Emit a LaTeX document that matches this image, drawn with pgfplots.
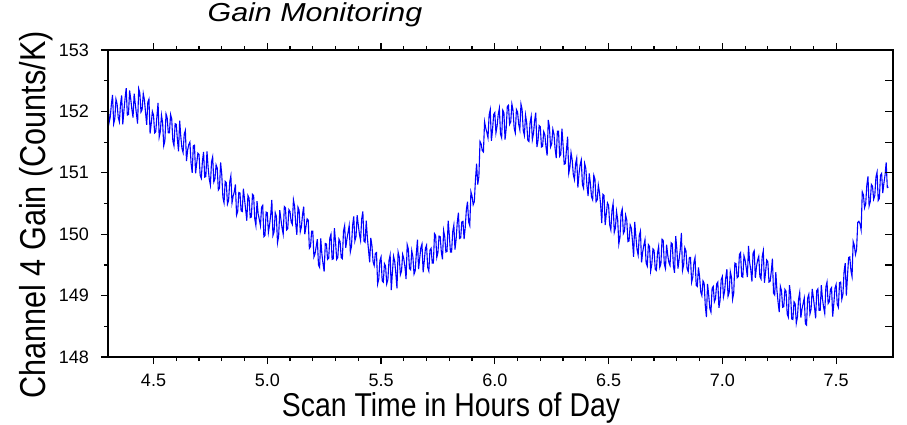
\documentclass[border=0pt]{standalone}
\usepackage{pgfplots}
\pgfplotsset{compat=1.18}
\usepackage{pgfplotstable}
\usepackage{fontspec}
\setmainfont{Liberation Sans}
\newfontfamily\ylabfont{Liberation Sans}[FakeStretch=0.85]
\newfontfamily\xlabfont{Liberation Sans}[FakeStretch=0.86]
\newfontfamily\titlefont{Liberation Sans}[FakeStretch=1.17]

\pgfplotstableread{
x y
4.300 152.17
4.305 151.82
4.310 151.91
4.315 152.12
4.320 152.27
4.325 151.80
4.330 151.88
4.335 152.20
4.340 152.12
4.345 151.90
4.350 151.83
4.355 152.12
4.360 152.26
4.365 151.79
4.370 152.01
4.375 152.21
4.380 152.38
4.385 151.94
4.390 151.95
4.395 152.34
4.400 152.20
4.405 152.03
4.410 151.90
4.415 152.29
4.420 152.12
4.425 151.96
4.430 151.80
4.435 152.37
4.440 152.30
4.445 151.99
4.450 152.03
4.455 152.29
4.460 152.19
4.465 151.98
4.470 151.78
4.475 152.15
4.480 152.20
4.485 151.64
4.490 151.80
4.495 152.00
4.500 151.94
4.505 151.65
4.510 151.67
4.515 151.92
4.520 152.14
4.525 151.58
4.530 151.67
4.535 151.94
4.540 151.82
4.545 151.44
4.550 151.52
4.555 151.96
4.560 151.90
4.565 151.65
4.570 151.65
4.575 151.95
4.580 151.88
4.585 151.52
4.590 151.44
4.595 151.80
4.600 151.79
4.605 151.54
4.610 151.35
4.615 151.85
4.620 151.59
4.625 151.40
4.630 151.33
4.635 151.63
4.640 151.69
4.645 151.19
4.650 151.37
4.655 151.46
4.660 151.50
4.665 151.16
4.670 151.00
4.675 151.44
4.680 151.45
4.685 150.99
4.690 151.16
4.695 151.32
4.700 151.30
4.705 150.96
4.710 150.91
4.715 151.19
4.720 151.34
4.725 150.93
4.730 150.94
4.735 151.35
4.740 151.09
4.745 150.90
4.750 150.80
4.755 151.18
4.760 151.26
4.765 150.85
4.770 150.90
4.775 151.13
4.780 151.08
4.785 150.72
4.790 150.75
4.795 151.17
4.800 150.97
4.805 150.60
4.810 150.51
4.815 150.86
4.820 150.84
4.825 150.49
4.830 150.55
4.835 150.85
4.840 150.95
4.845 150.51
4.850 150.62
4.855 150.69
4.860 150.81
4.865 150.31
4.870 150.37
4.875 150.68
4.880 150.67
4.885 150.38
4.890 150.37
4.895 150.74
4.900 150.57
4.905 150.40
4.910 150.22
4.915 150.63
4.920 150.59
4.925 150.27
4.930 150.28
4.935 150.65
4.940 150.63
4.945 150.25
4.950 150.14
4.955 150.54
4.960 150.33
4.965 150.24
4.970 150.14
4.975 150.44
4.980 150.47
4.985 149.96
4.990 149.98
4.995 150.36
5.000 150.35
5.005 150.03
5.010 150.15
5.015 150.31
5.020 150.56
5.025 149.98
5.030 150.04
5.035 150.35
5.040 150.29
5.045 149.86
5.050 149.97
5.055 150.39
5.060 150.24
5.065 150.10
5.070 150.00
5.075 150.45
5.080 150.43
5.085 150.07
5.090 150.09
5.095 150.40
5.100 150.37
5.105 150.20
5.110 150.16
5.115 150.56
5.120 150.46
5.125 150.17
5.130 149.99
5.135 150.44
5.140 150.39
5.145 150.04
5.150 150.12
5.155 150.32
5.160 150.45
5.165 150.00
5.170 150.12
5.175 150.25
5.180 150.23
5.185 149.77
5.190 149.80
5.195 150.05
5.200 150.05
5.205 149.63
5.210 149.68
5.215 149.80
5.220 149.92
5.225 149.50
5.230 149.46
5.235 149.93
5.240 149.68
5.245 149.52
5.250 149.39
5.255 149.85
5.260 149.84
5.265 149.59
5.270 149.61
5.275 149.94
5.280 150.00
5.285 149.59
5.290 149.60
5.295 150.10
5.300 149.88
5.305 149.59
5.310 149.62
5.315 149.92
5.320 149.88
5.325 149.62
5.330 149.60
5.335 150.05
5.340 150.14
5.345 149.78
5.350 149.92
5.355 150.03
5.360 150.14
5.365 149.71
5.370 149.80
5.375 150.14
5.380 150.29
5.385 149.89
5.390 149.96
5.395 150.31
5.400 150.15
5.405 150.00
5.410 149.90
5.415 150.25
5.420 150.37
5.425 149.89
5.430 149.87
5.435 150.22
5.440 149.94
5.445 149.74
5.450 149.54
5.455 149.94
5.460 149.81
5.465 149.55
5.470 149.49
5.475 149.69
5.480 149.70
5.485 149.19
5.490 149.27
5.495 149.57
5.500 149.63
5.505 149.24
5.510 149.22
5.515 149.52
5.520 149.48
5.525 149.19
5.530 149.26
5.535 149.57
5.540 149.66
5.545 149.09
5.550 149.38
5.555 149.64
5.560 149.56
5.565 149.36
5.570 149.12
5.575 149.71
5.580 149.63
5.585 149.34
5.590 149.40
5.595 149.67
5.600 149.60
5.605 149.47
5.610 149.27
5.615 149.83
5.620 149.76
5.625 149.44
5.630 149.42
5.635 149.73
5.640 149.63
5.645 149.35
5.650 149.40
5.655 149.68
5.660 149.91
5.665 149.43
5.670 149.61
5.675 149.78
5.680 149.84
5.685 149.38
5.690 149.56
5.695 149.77
5.700 149.82
5.705 149.46
5.710 149.40
5.715 149.74
5.720 149.77
5.725 149.53
5.730 149.53
5.735 150.01
5.740 149.98
5.745 149.62
5.750 149.70
5.755 149.97
5.760 149.96
5.765 149.71
5.770 149.59
5.775 150.06
5.780 149.96
5.785 149.71
5.790 149.72
5.795 150.22
5.800 149.99
5.805 149.71
5.810 149.71
5.815 150.04
5.820 150.15
5.825 149.75
5.830 149.92
5.835 150.19
5.840 150.35
5.845 149.93
5.850 149.94
5.855 150.20
5.860 150.21
5.865 149.92
5.870 150.11
5.875 150.40
5.880 150.53
5.885 150.20
5.890 150.14
5.895 150.69
5.900 150.62
5.905 150.48
5.910 150.53
5.915 150.89
5.920 151.15
5.925 150.81
5.930 150.94
5.935 151.51
5.940 151.47
5.945 151.36
5.950 151.34
5.955 151.83
5.960 151.73
5.965 151.66
5.970 151.57
5.975 151.94
5.980 152.03
5.985 151.52
5.990 151.70
5.995 151.95
6.000 151.98
6.005 151.65
6.010 151.76
6.015 151.95
6.020 152.05
6.025 151.63
6.030 151.57
6.035 152.02
6.040 151.98
6.045 151.54
6.050 151.72
6.055 152.08
6.060 152.10
6.065 151.79
6.070 151.83
6.075 152.12
6.080 152.02
6.085 151.73
6.090 151.65
6.095 152.03
6.100 151.99
6.105 151.79
6.110 151.70
6.115 152.12
6.120 152.03
6.125 151.69
6.130 151.61
6.135 151.94
6.140 151.82
6.145 151.53
6.150 151.51
6.155 151.82
6.160 151.92
6.165 151.54
6.170 151.64
6.175 151.85
6.180 151.98
6.185 151.42
6.190 151.53
6.195 151.77
6.200 151.75
6.205 151.42
6.210 151.43
6.215 151.67
6.220 151.62
6.225 151.42
6.230 151.28
6.235 151.86
6.240 151.75
6.245 151.42
6.250 151.47
6.255 151.71
6.260 151.63
6.265 151.39
6.270 151.24
6.275 151.68
6.280 151.68
6.285 151.27
6.290 151.30
6.295 151.72
6.300 151.45
6.305 151.14
6.310 151.15
6.315 151.38
6.320 151.59
6.325 150.99
6.330 151.09
6.335 151.33
6.340 151.21
6.345 150.97
6.350 150.89
6.355 151.15
6.360 151.24
6.365 150.76
6.370 150.98
6.375 151.13
6.380 151.21
6.385 150.81
6.390 150.75
6.395 151.15
6.400 151.07
6.405 150.79
6.410 150.62
6.415 150.99
6.420 150.83
6.425 150.61
6.430 150.56
6.435 150.96
6.440 150.90
6.445 150.53
6.450 150.56
6.455 150.80
6.460 150.68
6.465 150.48
6.470 150.18
6.475 150.65
6.480 150.63
6.485 150.15
6.490 150.33
6.495 150.51
6.500 150.47
6.505 150.15
6.510 150.07
6.515 150.39
6.520 150.50
6.525 150.03
6.530 150.10
6.535 150.37
6.540 150.24
6.545 149.84
6.550 149.95
6.555 150.34
6.560 150.41
6.565 150.01
6.570 150.05
6.575 150.31
6.580 150.23
6.585 149.88
6.590 149.89
6.595 150.15
6.600 150.10
6.605 149.89
6.610 149.63
6.615 150.20
6.620 149.96
6.625 149.75
6.630 149.66
6.635 149.98
6.640 150.05
6.645 149.54
6.650 149.71
6.655 149.82
6.660 149.91
6.665 149.53
6.670 149.48
6.675 149.83
6.680 149.80
6.685 149.40
6.690 149.51
6.695 149.76
6.700 149.74
6.705 149.43
6.710 149.41
6.715 149.69
6.720 149.80
6.725 149.46
6.730 149.52
6.735 149.92
6.740 149.90
6.745 149.51
6.750 149.44
6.755 149.83
6.760 149.66
6.765 149.54
6.770 149.49
6.775 149.86
6.780 149.84
6.785 149.48
6.790 149.37
6.795 149.97
6.800 149.76
6.805 149.44
6.810 149.59
6.815 149.75
6.820 150.02
6.825 149.41
6.830 149.50
6.835 149.78
6.840 149.73
6.845 149.44
6.850 149.39
6.855 149.62
6.860 149.62
6.865 149.22
6.870 149.30
6.875 149.54
6.880 149.62
6.885 149.17
6.890 149.15
6.895 149.46
6.900 149.31
6.905 149.06
6.910 149.00
6.915 149.24
6.920 149.20
6.925 148.84
6.930 148.65
6.935 149.19
6.940 149.01
6.945 148.79
6.950 148.73
6.955 149.12
6.960 149.15
6.965 148.90
6.970 148.95
6.975 149.19
6.980 149.22
6.985 148.80
6.990 148.92
6.995 149.26
7.000 149.31
7.005 148.98
7.010 149.07
7.015 149.29
7.020 149.43
7.025 148.99
7.030 149.05
7.035 149.39
7.040 149.30
7.045 148.94
7.050 149.04
7.055 149.53
7.060 149.52
7.065 149.29
7.070 149.31
7.075 149.67
7.080 149.70
7.085 149.31
7.090 149.30
7.095 149.65
7.100 149.58
7.105 149.45
7.110 149.30
7.115 149.81
7.120 149.54
7.125 149.42
7.130 149.23
7.135 149.69
7.140 149.73
7.145 149.29
7.150 149.47
7.155 149.58
7.160 149.64
7.165 149.31
7.170 149.27
7.175 149.63
7.180 149.73
7.185 149.21
7.190 149.38
7.195 149.58
7.200 149.55
7.205 149.22
7.210 149.23
7.215 149.39
7.220 149.60
7.225 149.04
7.230 149.01
7.235 149.38
7.240 149.08
7.245 148.89
7.250 148.73
7.255 149.15
7.260 149.08
7.265 148.81
7.270 148.82
7.275 149.10
7.280 149.07
7.285 148.70
7.290 148.65
7.295 149.17
7.300 149.02
7.305 148.62
7.310 148.61
7.315 148.90
7.320 148.87
7.325 148.55
7.330 148.65
7.335 148.94
7.340 149.05
7.345 148.64
7.350 148.78
7.355 148.87
7.360 148.96
7.365 148.54
7.370 148.52
7.375 148.96
7.380 149.02
7.385 148.70
7.390 148.78
7.395 149.11
7.400 148.97
7.405 148.81
7.410 148.63
7.415 149.08
7.420 149.11
7.425 148.76
7.430 148.76
7.435 149.17
7.440 148.95
7.445 148.81
7.450 148.71
7.455 149.14
7.460 149.22
7.465 148.87
7.470 148.90
7.475 149.10
7.480 149.13
7.485 148.66
7.490 148.87
7.495 149.12
7.500 149.18
7.505 148.86
7.510 148.81
7.515 149.21
7.520 149.22
7.525 148.94
7.530 149.02
7.535 149.39
7.540 149.53
7.545 149.00
7.550 149.32
7.555 149.62
7.560 149.63
7.565 149.41
7.570 149.31
7.575 149.88
7.580 149.82
7.585 149.67
7.590 149.75
7.595 150.19
7.600 150.21
7.605 150.17
7.610 150.07
7.615 150.69
7.620 150.64
7.625 150.43
7.630 150.49
7.635 150.80
7.640 150.94
7.645 150.46
7.650 150.53
7.655 150.81
7.660 150.78
7.665 150.57
7.670 150.63
7.675 150.93
7.680 151.01
7.685 150.55
7.690 150.58
7.695 150.96
7.700 150.99
7.705 150.67
7.710 150.83
7.715 150.96
7.720 151.17
7.725 150.76
7.730 150.77
}\gaindata

\begin{document}
\begin{tikzpicture}
\path[use as bounding box] (0,0) rectangle (453.5pt,212pt);
\begin{axis}[
  at={(54pt,33.5pt)}, anchor=south west,
  scale only axis, width=392.5pt, height=153.5pt,
  xmin=4.3, xmax=7.75, ymin=148, ymax=153,
  xtick={4.5,5.0,5.5,6.0,6.5,7.0,7.5},
  ytick={148,149,150,151,152,153},
  minor x tick num=4, minor y tick num=1,
  xtick pos=both, ytick pos=left, tick align=outside,
  major tick length=3.5pt, minor tick length=2pt,
  tick style={black, line width=0.6pt},
  axis line style={line width=0.8pt},
  /pgf/number format/assume math mode=true,
  ticklabel style={font=\fontsize{9}{10}\selectfont},
  xticklabel style={yshift=-1.5pt, /pgf/number format/.cd, fixed, fixed zerofill, precision=1, /tikz/.cd},
  yticklabel style={xshift=-2.5pt},
]
\addplot[blue, line width=0.55pt] table[x=x, y=y] {\gaindata};
\end{axis}
\begin{axis}[
  at={(54pt,33.5pt)}, anchor=south west,
  scale only axis, width=392.5pt, height=153.5pt,
  xmin=4.3, xmax=7.75, ymin=148, ymax=153,
  xtick=\empty,
  ytick={148,149,150,151,152,153},
  minor y tick num=1,
  ytick pos=right, tick align=inside,
  major tick length=4pt, minor tick length=4pt,
  tick style={black, line width=0.6pt},
  yticklabels={},
  axis line style={line width=0.8pt},
]
\end{axis}
\node[anchor=base, font=\titlefont\itshape\fontsize{13}{15}\selectfont] at (157.5pt,201pt) {Gain Monitoring};
\node[anchor=base, inner sep=0pt, font=\xlabfont\fontsize{16.5}{18}\selectfont] at (225.5pt,3.6pt) {Scan Time in Hours of Day};
\node[anchor=base, rotate=90, font=\ylabfont\fontsize{18}{20}\selectfont] at (23pt,104.5pt) {Channel 4 Gain (Counts/K)};
\end{tikzpicture}
\end{document}
